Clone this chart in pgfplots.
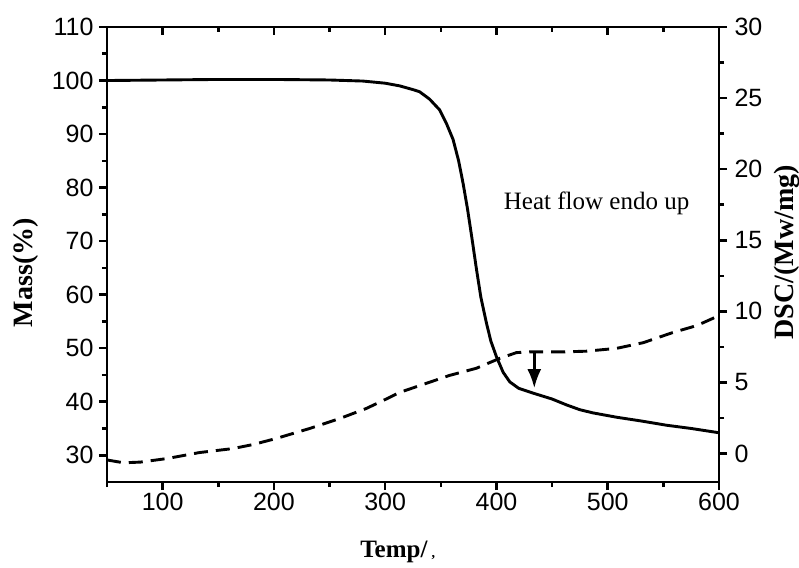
\documentclass[border=0pt]{standalone}
\usepackage{pgfplots}
\pgfplotsset{compat=1.18}
\usepackage{fontspec}
\setmainfont{Liberation Serif}
\newfontfamily\arial{Liberation Sans}
\usetikzlibrary{arrows.meta}

\pgfplotstableread{
T M
50 100.0
100 100.1
150 100.2
200 100.2
250 100.1
280 99.9
300 99.5
313 99.0
325 98.3
331 97.9
340 96.5
349 94.5
355 92.0
361 89.0
366 85.0
370 80.8
374 76.0
378 70.5
382 64.8
386 59.5
391 54.7
395 51.3
400 48.4
406 45.5
412 43.7
420 42.5
433 41.6
450 40.5
463 39.4
475 38.5
487 37.9
508 37.1
530 36.4
553 35.6
575 35.0
600 34.2
}\mass

\pgfplotstableread{
T D
50 -0.45
65 -0.65
80 -0.6
104 -0.35
133 0.07
163 0.35
181 0.63
202 1.06
232 1.76
259 2.46
283 3.17
300 3.8
313 4.3
328 4.7
358 5.5
382 6.0
403 6.7
418 7.1
430 7.15
460 7.15
481 7.2
508 7.4
532 7.8
558 8.5
580 9.0
600 9.7
}\dsc

\pgfplotsset{
  common/.style={
    scale only axis, width=612pt, height=455pt,
    at={(0,0)}, anchor=south west,
    xmin=50, xmax=600,
    axis line style={line width=2.9pt},
    tick style={line width=2.6pt, black},
    major tick length=8pt, minor tick length=5pt,
    tick label style={font=\arial\fontsize{25}{25}\selectfont},
    /pgf/number format/assume math mode=true,
  }
}

\begin{document}
\begin{tikzpicture}
\useasboundingbox (-107pt,-85pt) rectangle (692pt,482pt);
% left axis
\begin{axis}[common,
  ymin=25, ymax=110,
  xtick={100,200,...,600}, minor xtick={50,150,...,550},
  ytick={30,40,...,110}, minor ytick={35,45,...,105},
  xtick pos=bottom, ytick pos=left, tick align=outside,
  yticklabel style={xshift=-2pt},
  clip=false]
\addplot[line width=2.9pt, black] table[x=T, y=M] {\mass};
\node[rotate=90, font=\bfseries\fontsize{28}{28}\selectfont] at (rel axis cs:-0.132,0.46) {Mass(\%)};
\node[font=\bfseries\fontsize{25}{25}\selectfont] at (rel axis cs:0.475,-0.154) {Temp/\,{\fontsize{14}{14}\selectfont ,}};
\node[anchor=base, font=\fontsize{25}{25}\selectfont] at (rel axis cs:0.8,0.598) {Heat flow endo up};
\end{axis}
% right axis
\begin{axis}[common,
  ymin=-2, ymax=30,
  axis x line=none, axis y line*=right,
  ytick={0,5,...,30}, minor ytick={2.5,7.5,...,27.5},
  yticklabel style={xshift=4pt},
  tick align=outside, clip=false]
\addplot[line width=2.9pt, black, dash pattern=on 14pt off 8pt] table[x=T, y=D] {\dsc};
\draw[line width=2.6pt, -{Latex[length=19pt,width=14pt]}] (axis cs:434,7.1) -- (axis cs:434,4.6);
\node[rotate=90, font=\bfseries\fontsize{28}{28}\selectfont] at (rel axis cs:1.111,0.505) {DSC/(Mw/mg)};
\end{axis}
% top ticks
\begin{axis}[common,
  ymin=25, ymax=110,
  xtick={100,200,...,600}, minor xtick={50,150,...,550},
  xtick pos=top, xticklabels={}, ytick=\empty,
  tick align=inside]
\end{axis}
\end{tikzpicture}
\end{document}
